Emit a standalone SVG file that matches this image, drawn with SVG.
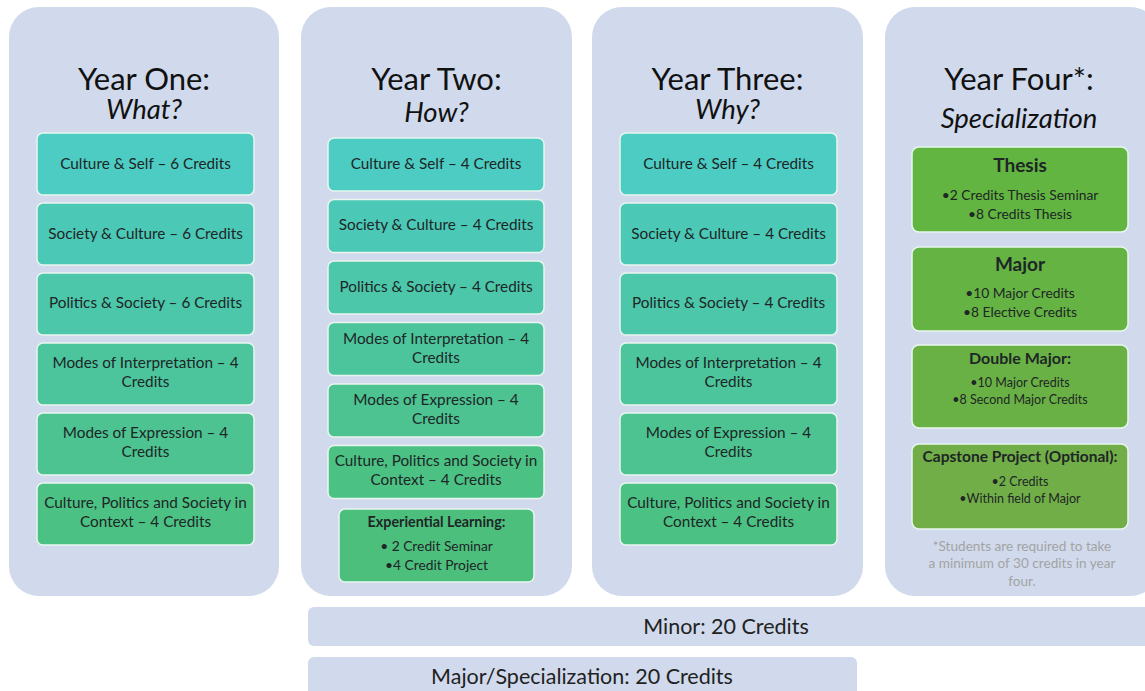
<svg xmlns="http://www.w3.org/2000/svg" width="1145" height="691" viewBox="0 0 1145 691">
<style>
.col{fill:#D0DAEC}
.bar{fill:#D0DAEC}
.box{stroke:#E8F6EE;stroke-width:1.5}
.t{font-family:Lato,"Liberation Sans",sans-serif;fill:#1E2626;text-anchor:middle}
.h1{font-size:31px;fill:#111}
.h2{font-size:27.5px;font-style:italic;fill:#111}
.bx{font-size:15.3px}
.bb{font-weight:bold}
.sm{font-size:13.8px}
.note{font-size:13.6px;fill:#A3A3A3}
.bartxt{font-size:21.5px;fill:#222}
</style>
<rect width="1145" height="691" fill="#FFFFFF"/>
<g id="year1">
<rect class="col" x="9" y="7" width="270" height="589" rx="30"/>
<text class="t h1" x="144" y="90">Year One:</text>
<text class="t h2" x="144" y="119">What?</text>
<rect class="box" x="37" y="133" width="217" height="62" rx="6" fill="#4DCCC3"/>
<text class="t bx" x="145.5" y="169">Culture &amp; Self – 6 Credits</text>
<rect class="box" x="37" y="203" width="217" height="62" rx="6" fill="#4CC9B6"/>
<text class="t bx" x="145.5" y="239">Society &amp; Culture – 6 Credits</text>
<rect class="box" x="37" y="273" width="217" height="62" rx="6" fill="#4CC7AA"/>
<text class="t bx" x="145.5" y="308">Politics &amp; Society – 6 Credits</text>
<rect class="box" x="37" y="343" width="217" height="62" rx="6" fill="#4CC59D"/>
<text class="t bx" x="145.5" y="368">Modes of Interpretation – 4</text>
<text class="t bx" x="145.5" y="387">Credits</text>
<rect class="box" x="37" y="413" width="217" height="62" rx="6" fill="#4CC391"/>
<text class="t bx" x="145.5" y="438">Modes of Expression – 4</text>
<text class="t bx" x="145.5" y="457">Credits</text>
<rect class="box" x="37" y="483" width="217" height="62" rx="6" fill="#4CC184"/>
<text class="t bx" x="145.5" y="508">Culture, Politics and Society in</text>
<text class="t bx" x="145.5" y="527">Context – 4 Credits</text>
</g>
<g id="year2">
<rect class="col" x="301" y="7" width="271" height="589" rx="30"/>
<text class="t h1" x="436.5" y="90">Year Two:</text>
<text class="t h2" x="436.5" y="122">How?</text>
<rect class="box" x="328" y="138" width="216" height="53" rx="6" fill="#4DCCC3"/>
<text class="t bx" x="436" y="169">Culture &amp; Self – 4 Credits</text>
<rect class="box" x="328" y="199.5" width="216" height="53" rx="6" fill="#4CC9B6"/>
<text class="t bx" x="436" y="230">Society &amp; Culture – 4 Credits</text>
<rect class="box" x="328" y="261" width="216" height="53" rx="6" fill="#4CC7AA"/>
<text class="t bx" x="436" y="292">Politics &amp; Society – 4 Credits</text>
<rect class="box" x="328" y="322.5" width="216" height="53" rx="6" fill="#4CC59D"/>
<text class="t bx" x="436" y="344">Modes of Interpretation – 4</text>
<text class="t bx" x="436" y="363">Credits</text>
<rect class="box" x="328" y="384" width="216" height="53" rx="6" fill="#4CC391"/>
<text class="t bx" x="436" y="405">Modes of Expression – 4</text>
<text class="t bx" x="436" y="424">Credits</text>
<rect class="box" x="328" y="445.5" width="216" height="53" rx="6" fill="#4CC184"/>
<text class="t bx" x="436" y="466">Culture, Politics and Society in</text>
<text class="t bx" x="436" y="485">Context – 4 Credits</text>
<rect class="box" x="339" y="509" width="195" height="73" rx="6" fill="#4DBF7D"/>
<text class="t bb" x="436.5" y="527" font-size="14.3">Experiential Learning:</text>
<text class="t sm" x="436.5" y="551">• 2 Credit Seminar</text>
<text class="t sm" x="436.5" y="570">•4 Credit Project</text>
</g>
<g id="year3">
<rect class="col" x="592" y="7" width="271" height="589" rx="30"/>
<text class="t h1" x="727.5" y="90">Year Three:</text>
<text class="t h2" x="727.5" y="119">Why?</text>
<rect class="box" x="620" y="133" width="217" height="62" rx="6" fill="#4DCCC3"/>
<text class="t bx" x="728.5" y="169">Culture &amp; Self – 4 Credits</text>
<rect class="box" x="620" y="203" width="217" height="62" rx="6" fill="#4CC9B6"/>
<text class="t bx" x="728.5" y="239">Society &amp; Culture – 4 Credits</text>
<rect class="box" x="620" y="273" width="217" height="62" rx="6" fill="#4CC7AA"/>
<text class="t bx" x="728.5" y="308">Politics &amp; Society – 4 Credits</text>
<rect class="box" x="620" y="343" width="217" height="62" rx="6" fill="#4CC59D"/>
<text class="t bx" x="728.5" y="368">Modes of Interpretation – 4</text>
<text class="t bx" x="728.5" y="387">Credits</text>
<rect class="box" x="620" y="413" width="217" height="62" rx="6" fill="#4CC391"/>
<text class="t bx" x="728.5" y="438">Modes of Expression – 4</text>
<text class="t bx" x="728.5" y="457">Credits</text>
<rect class="box" x="620" y="483" width="217" height="62" rx="6" fill="#4CC184"/>
<text class="t bx" x="728.5" y="508">Culture, Politics and Society in</text>
<text class="t bx" x="728.5" y="527">Context – 4 Credits</text>
</g>
<g id="year4">
<rect class="col" x="885" y="7" width="275" height="589" rx="30"/>
<text class="t h1" x="1019" y="90">Year Four*:</text>
<text class="t h2" x="1019" y="128">Specialization</text>
<rect class="box" x="912" y="147" width="216" height="85" rx="7" fill="#62B540"/>
<text class="t bb" x="1020" y="172" font-size="19">Thesis</text>
<text class="t sm" x="1020" y="200">•2 Credits Thesis Seminar</text>
<text class="t sm" x="1020" y="219">•8 Credits Thesis</text>
<rect class="box" x="912" y="247" width="216" height="84" rx="7" fill="#65B343"/>
<text class="t bb" x="1020" y="271" font-size="19">Major</text>
<text class="t sm" x="1020" y="298">•10 Major Credits</text>
<text class="t sm" x="1020" y="317">•8 Elective Credits</text>
<rect class="box" x="912" y="345" width="216" height="83" rx="7" fill="#6AB145"/>
<text class="t bb" x="1020" y="364" font-size="16">Double Major:</text>
<text class="t" x="1020" y="387" font-size="12.5">•10 Major Credits</text>
<text class="t" x="1020" y="404" font-size="12.5">•8 Second Major Credits</text>
<rect class="box" x="912" y="444" width="216" height="85" rx="7" fill="#71AE48"/>
<text class="t bb" x="1020" y="462" font-size="15.5">Capstone Project (Optional):</text>
<text class="t" x="1020" y="486" font-size="12.5">•2 Credits</text>
<text class="t" x="1020" y="503" font-size="12.5">•Within field of Major</text>
<text class="t note" x="1022" y="551">*Students are required to take</text>
<text class="t note" x="1022" y="568">a minimum of 30 credits in year</text>
<text class="t note" x="1022" y="586">four.</text>
</g>
<g id="minor">
<rect class="bar" x="308" y="607" width="850" height="39" rx="6"/>
<text class="t bartxt" x="726" y="634">Minor: 20 Credits</text>
</g>
<g id="major-specialization">
<rect class="bar" x="308" y="657" width="549" height="40" rx="6"/>
<text class="t bartxt" x="582" y="684">Major/Specialization: 20 Credits</text>
</g>
<g id="connectors"/>
</svg>
